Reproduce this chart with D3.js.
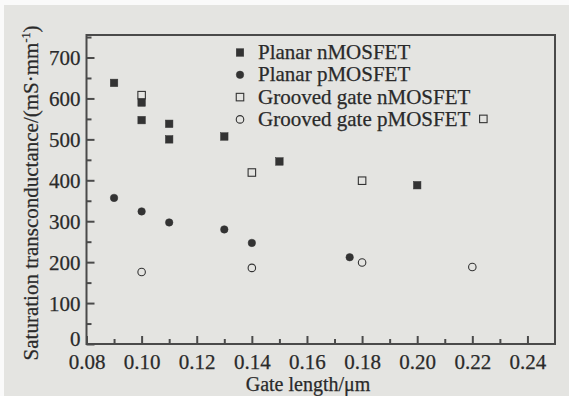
<!DOCTYPE html>
<html>
<head>
<meta charset="utf-8">
<script src="https://cdn.jsdelivr.net/npm/d3@7"></script>
<style>
  html, body { margin: 0; padding: 0; background: #fff; }
  svg text { font-family: 'Liberation Serif', 'DejaVu Serif', serif; fill: #2a2a2a; stroke: #2a2a2a; stroke-width: 0.25px; }
</style>
</head>
<body>
<div id="chart"></div>
<script>
const width = 569;
const height = 396;

// Gate length (um) and saturation transconductance (mS/mm)
const planarN_x = [0.09, 0.10, 0.10, 0.11, 0.11, 0.13, 0.15, 0.20];
const planarN_y = [638, 590, 547, 538, 500, 507, 446, 388];
const planarP_x = [0.09, 0.10, 0.11, 0.13, 0.14, 0.1755];
const planarP_y = [357, 324, 297, 280, 247, 212];
const groovedN_x = [0.10, 0.14, 0.18, 0.224];
const groovedN_y = [608, 419, 399, 550];
const groovedP_x = [0.10, 0.14, 0.18, 0.22];
const groovedP_y = [176, 186, 199, 188];

const seriesNames = ['Planar nMOSFET', 'Planar pMOSFET', 'Grooved gate nMOSFET', 'Grooved gate pMOSFET'];
const xTicks = [0.08, 0.10, 0.12, 0.14, 0.16, 0.18, 0.20, 0.22, 0.24];
const yTicks = [0, 100, 200, 300, 400, 500, 600, 700];

const margin = { left: 86.5, right: 555, top: 35, bottom: 344 };
const ink = '#333';
const axisInk = '#4a4a4a';
const fontSize = '21px';

const x = d3.scaleLinear().domain([0.08, 0.25]).range([margin.left, margin.right]);
const y = d3.scaleLinear().domain([0, 755]).range([margin.bottom, margin.top]);

const svg = d3.select('#chart').append('svg')
  .attr('width', width)
  .attr('height', height);

// scanned paper background (thin white strip on the top and left)
svg.append('rect').attr('width', width).attr('height', height).attr('fill', '#fafafa');
svg.append('rect').attr('x', 4).attr('y', 5).attr('width', width - 4).attr('height', height - 5).attr('fill', '#e4e4e1');

// Frame
svg.append('rect')
  .attr('x', margin.left).attr('y', margin.top)
  .attr('width', margin.right - margin.left)
  .attr('height', margin.bottom - margin.top)
  .attr('fill', 'none')
  .attr('stroke', axisInk)
  .attr('stroke-width', 2);

// X axis: inward ticks, minor every 0.01
const xAxis = d3.axisBottom(x)
  .tickValues(d3.range(0.08, 0.245, 0.01).map(v => +v.toFixed(2)))
  .tickSize(0)
  .tickFormat('');
const gx = svg.append('g').attr('transform', `translate(0,${margin.bottom})`).call(xAxis);
gx.select('.domain').remove();
gx.selectAll('.tick line')
  .attr('y2', d => (Math.round(d * 100) % 2 === 0 ? -8 : -5))
  .attr('stroke', axisInk)
  .attr('stroke-width', 2);
gx.selectAll('.tick')
  .filter(d => xTicks.some(t => Math.abs(t - d) < 1e-6))
  .append('text')
  .attr('y', 25)
  .attr('text-anchor', 'middle')
  .style('font-size', fontSize)
  .text(d => d.toFixed(2));

// Y axis: inward ticks, minor every 50
const yAxis = d3.axisLeft(y)
  .tickValues(d3.range(0, 751, 50))
  .tickSize(0)
  .tickFormat('');
const gy = svg.append('g').attr('transform', `translate(${margin.left},0)`).call(yAxis);
gy.select('.domain').remove();
gy.selectAll('.tick line')
  .attr('x2', d => (d % 100 === 0 ? 8 : 5))
  .attr('stroke', axisInk)
  .attr('stroke-width', 2);
gy.selectAll('.tick')
  .filter(d => yTicks.includes(d))
  .append('text')
  .attr('x', -6)
  .attr('dy', d => (d === 0 ? '0.05em' : '0.35em'))
  .attr('text-anchor', 'end')
  .style('font-size', fontSize)
  .text(d => d);

// Axis titles
svg.append('text')
  .attr('x', 308)
  .attr('y', 391)
  .attr('text-anchor', 'middle')
  .style('font-size', '20px')
  .text('Gate length/\u03bcm');

const yTitle = svg.append('text')
  .attr('transform', 'translate(38,193) rotate(-90)')
  .attr('text-anchor', 'middle')
  .style('font-size', fontSize);
yTitle.append('tspan').text('Saturation transconductance/(mS\u00b7mm');
yTitle.append('tspan').attr('dy', -8).style('font-size', '12px').text('-1');
yTitle.append('tspan').attr('dy', 8).text(')');

// Marker drawers
const markerSize = 7.5;
const drawSquare = (g, filled) => g.append('rect')
  .attr('x', -markerSize / 2).attr('y', -markerSize / 2)
  .attr('width', markerSize).attr('height', markerSize)
  .attr('fill', filled ? ink : 'none')
  .attr('stroke', ink)
  .attr('stroke-width', filled ? 0.5 : 1.1);
const drawCircle = (g, filled) => g.append('circle')
  .attr('r', markerSize / 2)
  .attr('fill', filled ? ink : 'none')
  .attr('stroke', ink)
  .attr('stroke-width', filled ? 0.5 : 1.1);

const series = [
  { xs: planarN_x, ys: planarN_y, draw: g => drawSquare(g, true) },
  { xs: planarP_x, ys: planarP_y, draw: g => drawCircle(g, true) },
  { xs: groovedN_x, ys: groovedN_y, draw: g => drawSquare(g, false) },
  { xs: groovedP_x, ys: groovedP_y, draw: g => drawCircle(g, false) },
];

series.forEach(s => {
  s.xs.forEach((xv, i) => {
    const g = svg.append('g').attr('transform', `translate(${x(xv)},${y(s.ys[i])})`);
    s.draw(g);
  });
});

// Legend
const legend = svg.append('g').attr('transform', 'translate(240,52.5)');
series.forEach((s, i) => {
  const row = legend.append('g').attr('transform', `translate(0,${i * 22.3})`);
  s.draw(row);
  row.append('text')
    .attr('x', 18)
    .attr('y', 6.5)
    .style('font-size', fontSize)
    .text(seriesNames[i]);
});
</script>
</body>
</html>
